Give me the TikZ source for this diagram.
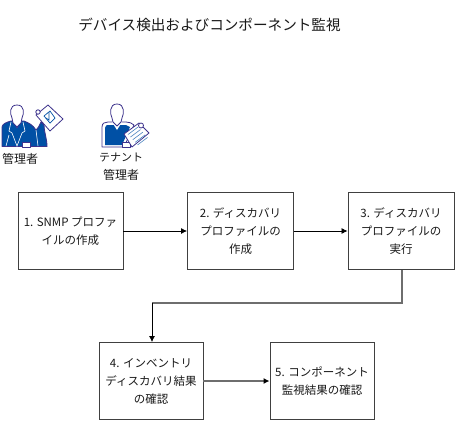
\documentclass[tikz,border=0pt]{standalone}
\usepackage{fontspec}
\setmainfont{Noto Sans CJK JP}
\usetikzlibrary{arrows.meta}
\definecolor{iconblue}{RGB}{0,80,165}
\definecolor{iconline}{RGB}{60,50,140}
\definecolor{linegray}{RGB}{110,110,110}
\tikzset{
  stepbox/.style={draw=black!75,line width=0.9pt,fill=white,inner sep=0pt,align=center,font=\fontsize{11.5}{18}\selectfont,text=black!90},
  flow/.style={-{Latex[length=6pt,width=6pt]},line width=0.8pt,black},
  flowgray/.style={line width=1.6pt,linegray},
  lbl/.style={inner sep=0pt,align=center,font=\fontsize{12}{18}\selectfont,text=black!90},
  iconedge/.style={draw=iconline,line width=0.8pt,line join=round}
}
\begin{document}
\begin{tikzpicture}[x=1pt,y=-1pt]
\useasboundingbox (0,0) rectangle (455,421);
\fill[white] (0,0) rectangle (455,421);
\node[inner sep=0pt,font=\fontsize{14.6}{16}\selectfont,text=black!90] (title) at (209.5,25) {デバイス検出およびコンポーネント監視};
% admin icon: clipboard behind the arm
\fill[white,iconedge] (36,115) -- (48,105) -- (63,119) -- (50,131) -- cycle;
\fill[white,iconedge] (38,112) circle (2.2);
\draw[iconblue,line width=0.7pt] (44,116) -- (50,111) -- (55,118) -- (50,123) -- cycle;
\draw[iconblue,line width=0.7pt] (49,112) -- (49,120) -- (46,118);
% admin body
\fill[iconblue,iconedge] (2,146.5) -- (2,127) .. controls (2,124) and (7,122) .. (11,121) -- (24,121) .. controls (29,123) and (33,125) .. (36,130) .. controls (38,129) and (39,126) .. (41,122) -- (44,125) .. controls (44,132) and (47,138) .. (47,146.5) -- cycle;
\draw[white,line width=0.6pt] (11,122) -- (9,131) -- (12,133) -- (17,146) -- (22,133) -- (25,131) -- (23,122);
\draw[white,line width=0.6pt] (9,135) -- (6,146);
\draw[white,line width=0.6pt] (36,130) -- (38,146);
\fill[white,iconedge] (14,121) -- (17,128) -- (20,121) -- cycle;
\fill[white,iconedge] (17,105) .. controls (9,105) and (10,114) .. (12,118) -- (13,123) -- (17,127) -- (21,123) -- (22,118) .. controls (24,114) and (25,105) .. (17,105) -- cycle;
\fill[white,iconedge] (22,142) rectangle (30,147);
% tenant icon
\fill[white,iconedge] (102,147) -- (102,127) .. controls (102,123) and (105,122) .. (108,122) -- (126,122) .. controls (129,122) and (132,123) .. (134,125) -- (124,147) -- cycle;
\fill[iconblue] (105,145) -- (105,128) .. controls (105,125) and (107,125) .. (109,125) -- (126,125) -- (130,127) -- (122,145) -- cycle;
\fill[white] (112,122) -- (117,130) -- (122,122) -- cycle;
\fill[white,iconedge] (117,104) .. controls (109,104) and (110,114) .. (112,118) -- (113,122) -- (117,126) -- (121,122) -- (122,118) .. controls (124,114) and (125,104) .. (117,104) -- cycle;
\fill[white,iconedge] (122,142) rectangle (130,147);
\fill[white,iconedge] (124,134) -- (139,123) -- (149,133) -- (132,147) -- cycle;
\fill[white,iconedge] (141,125.5) circle (2.5);
\foreach \k in {0,1,2,3,4}{\draw[iconblue!70,line width=0.6pt] (128+2.4*\k,134.5+2.6*\k) -- (138+2.4*\k,127+2.6*\k);}
\node[lbl] (admin) at (20,159) {管理者};
\node[lbl] (tenant) at (121,167) {{\fontsize{11}{18}\selectfont テナント}\\管理者};
% boxes
\node[stepbox,minimum width=105pt,minimum height=77pt] (s1) at (70.5,231) {1. SNMP プロファ\\イルの作成};
\node[stepbox,minimum width=106pt,minimum height=77pt] (s2) at (240.5,231) {2. ディスカバリ\\プロファイルの\\作成};
\node[stepbox,minimum width=106pt,minimum height=77pt] (s3) at (401,231) {3. ディスカバリ\\プロファイルの\\実行};
\node[stepbox,minimum width=104pt,minimum height=77pt] (s4) at (151,381) {4. インベントリ\\ディスカバリ結果\\の確認};
\node[stepbox,minimum width=104pt,minimum height=77pt] (s5) at (322,381) {5. コンポーネント\\監視結果の確認};
\draw[flow] (s1) -- (s2);
\draw[flow] (s2) -- (s3);
\coordinate (bend1) at (402,303);
\coordinate (bend2) at (152,303);
\draw[flowgray] (s3.south -| bend1) -- (bend1) -- (bend2);
\draw[flow] (bend2) -- (s4.north -| bend2);
\draw[flowgray,-{Latex[length=6pt,width=6pt,color=black]}] (s4) -- (s5);
\end{tikzpicture}
\end{document}
